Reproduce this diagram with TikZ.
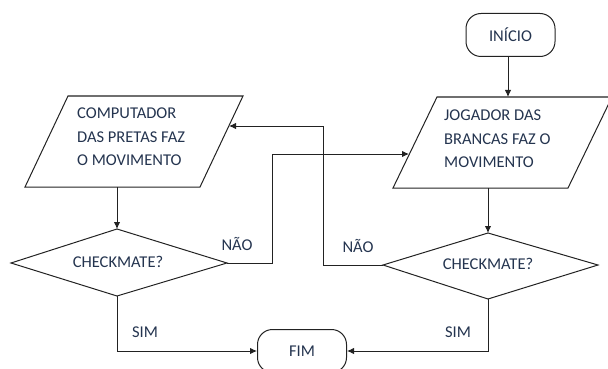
\documentclass[tikz,border=0pt]{standalone}
\usepackage{fontspec}
\setmainfont{Carlito}
\usetikzlibrary{arrows.meta}
\definecolor{txt}{HTML}{24344F}
\definecolor{ln}{HTML}{222222}
\tikzset{
  conn/.style={draw=ln, line width=1pt},
  arr/.style={conn, -{Latex[length=7pt,width=6.5pt]}},
  shapeline/.style={draw=ln, line width=1pt},
  lbl/.style={text=txt, font=\fontsize{16.5}{23.5}\selectfont, inner sep=0pt},
  term/.style={shapeline, rounded corners=15pt, minimum width=89pt, minimum height=43pt, lbl},
}
\begin{document}
\begin{tikzpicture}[x=1pt,y=-1pt]
\useasboundingbox (0,0) rectangle (608,369);
\clip (0,0) rectangle (608,369);
% terminals
\node[term] (inicio) at (510.5,35) {INÍCIO};
\node[term] (fim) at (302,351) {FIM};
% left parallelogram
\coordinate (lpTL) at (68,96);
\coordinate (lpTR) at (243,96);
\coordinate (lpBR) at (200,187);
\coordinate (lpBL) at (25,187);
\coordinate (lpB) at (117,187);
\coordinate (lpR) at (229,126);
\draw[shapeline] (lpTL) -- (lpTR) -- (lpBR) -- (lpBL) -- cycle;
\node[lbl, align=left, anchor=west] (lptext) at (77,137) {COMPUTADOR\\DAS PRETAS FAZ\\O MOVIMENTO};
% right parallelogram
\coordinate (rpTL) at (437,97);
\coordinate (rpTR) at (612,97);
\coordinate (rpBR) at (568,188);
\coordinate (rpBL) at (393,188);
\coordinate (rpT) at (508,97);
\coordinate (rpB) at (488,188);
\coordinate (rpL) at (409,154);
\draw[shapeline] (rpTL) -- (rpTR) -- (rpBR) -- (rpBL) -- cycle;
\node[lbl, align=left, anchor=west] (rptext) at (444,139) {JOGADOR DAS\\BRANCAS FAZ O\\MOVIMENTO};
% left diamond
\coordinate (ldL) at (11,263);
\coordinate (ldT) at (117,229);
\coordinate (ldR) at (227,263);
\coordinate (ldB) at (117,296);
\draw[shapeline] (ldL) -- (ldT) -- (ldR) -- (ldB) -- cycle;
\node[lbl] (ldtext) at (118,262) {CHECKMATE?};
% right diamond
\coordinate (rdL) at (383,265);
\coordinate (rdT) at (488,233);
\coordinate (rdR) at (598,265);
\coordinate (rdB) at (488,299);
\draw[shapeline] (rdL) -- (rdT) -- (rdR) -- (rdB) -- cycle;
\node[lbl] (rdtext) at (488,264) {CHECKMATE?};
% connectors
\draw[arr] (inicio.south -| rpT) -- (rpT);
\draw[arr] (lpB) -- (ldT);
\draw[arr] (rpB) -- (rdT);
\draw[arr] (ldR) -- (272,263) |- (rpL);
\draw[arr] (rdL) -- (323,265) |- (lpR);
\draw[arr] (ldB) |- (fim.west);
\draw[arr] (rdB) |- (fim.east);
% labels
\node[lbl] (nao1) at (237,244) {NÃO};
\node[lbl] (nao2) at (358,246) {NÃO};
\node[lbl] (sim1) at (145,332) {SIM};
\node[lbl] (sim2) at (458,332) {SIM};
\end{tikzpicture}
\end{document}
